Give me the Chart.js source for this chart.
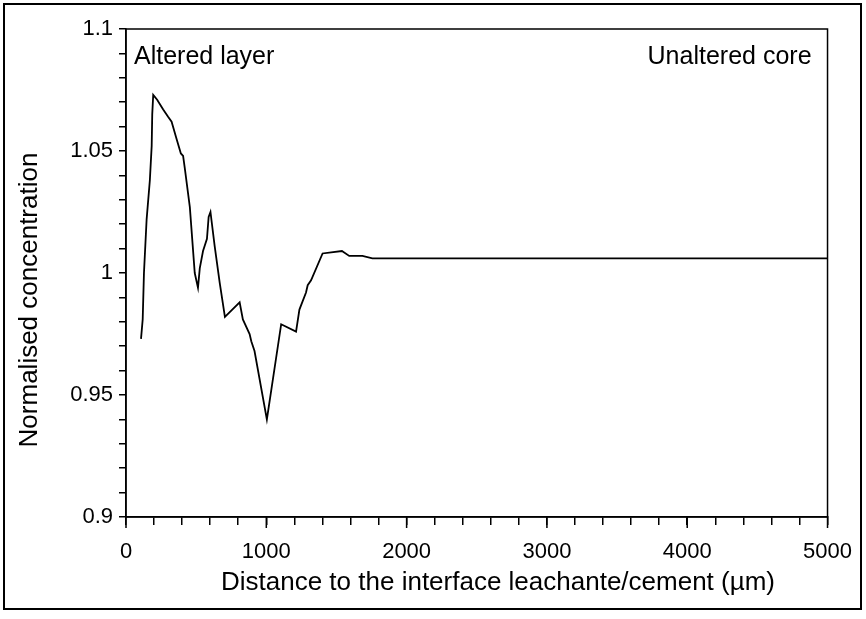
<!DOCTYPE html>
<html>
<head>
<meta charset="utf-8">
<script src="https://cdn.jsdelivr.net/npm/chart.js@4"></script>
<style>
  html, body { margin: 0; padding: 0; background: #fff; }
  #wrap { width: 866px; height: 619px; }
</style>
</head>
<body>
<div id="wrap"><canvas id="chart" width="866" height="619"></canvas></div>
<script>
// distance (µm) and normalised concentration
const distance = [107, 119, 128, 147, 170, 183, 187, 194, 222, 265, 300, 325, 360, 391, 407, 419,
  455, 490, 513, 526, 549, 577, 589, 602, 632, 668, 705, 810, 833, 881, 893, 916, 1004,
  1106, 1212, 1236, 1283, 1295, 1319, 1401, 1539, 1591, 1650, 1685, 1756, 1780, 5000];
const concentration = [0.973, 0.981, 1.0, 1.022, 1.038, 1.052, 1.065, 1.073, 1.071, 1.067, 1.064,
  1.062, 1.055, 1.049, 1.048, 1.043, 1.027, 1.0, 0.994, 1.002, 1.009, 1.014, 1.023, 1.025,
  1.011, 0.996, 0.982, 0.988, 0.981, 0.975, 0.972, 0.968, 0.940,
  0.979, 0.976, 0.985, 0.992, 0.995, 0.997, 1.008, 1.009, 1.007, 1.007, 1.007, 1.006, 1.006, 1.006];

const xMajorTicks = [0, 1000, 2000, 3000, 4000, 5000];
const yMajorTicks = [0.9, 0.95, 1, 1.05, 1.1];
const annotations = ['Altered layer', 'Unaltered core'];
const xTitle = 'Distance to the interface leachante/cement (µm)';
const yTitle = 'Normalised concentration';

const FONT = '"Liberation Sans", Arial, sans-serif';

const points = distance.map((d, i) => ({ x: d, y: concentration[i] }));

const frame = {
  id: 'frame',
  afterDraw(chart) {
    const { ctx, chartArea: a } = chart;
    const xs = chart.scales.x;
    ctx.save();
    ctx.strokeStyle = '#000';
    ctx.lineWidth = 1.5;
    ctx.strokeRect(a.left, a.top, a.right - a.left, a.bottom - a.top);

    // major x ticks are a bit longer than the minor ones
    ctx.beginPath();
    xMajorTicks.forEach(v => {
      const px = xs.getPixelForValue(v);
      ctx.moveTo(px, a.bottom);
      ctx.lineTo(px, a.bottom + 11);
    });
    ctx.stroke();

    ctx.lineWidth = 2;
    ctx.strokeRect(4, 4, 857, 605);

    ctx.fillStyle = '#000';
    ctx.font = '25px ' + FONT;
    ctx.textBaseline = 'middle';
    ctx.textAlign = 'left';
    ctx.fillText(annotations[0], a.left + 8, 57);
    ctx.textAlign = 'right';
    ctx.fillText(annotations[1], a.right - 16, 57);

    ctx.font = '26px ' + FONT;
    ctx.textAlign = 'center';
    ctx.fillText(xTitle, 498, 583);
    ctx.translate(30, 300);
    ctx.rotate(-Math.PI / 2);
    ctx.fillText(yTitle, 0, 0);
    ctx.restore();
  }
};

new Chart(document.getElementById('chart'), {
  type: 'line',
  data: {
    datasets: [{
      data: points,
      borderColor: '#000',
      borderWidth: 1.8,
      pointRadius: 0,
      tension: 0,
      fill: false
    }]
  },
  options: {
    responsive: false,
    animation: false,
    layout: { padding: { left: 0, top: 29, right: 36, bottom: 0 } },
    plugins: { legend: { display: false }, tooltip: { enabled: false } },
    scales: {
      x: {
        type: 'linear',
        min: 0,
        max: 5000,
        afterFit: s => { s.height = 102; },
        afterBuildTicks: s => {
          s.ticks = [];
          for (let v = 0; v <= 5000; v += 200) s.ticks.push({ value: v });
        },
        border: { display: true, color: '#000', width: 1.5 },
        grid: { drawOnChartArea: false, drawTicks: true, tickLength: 8, color: '#000', lineWidth: 1.5 },
        ticks: {
          autoSkip: false,
          maxRotation: 0,
          color: '#000',
          padding: 14,
          font: { family: FONT, size: 22 },
          callback: v => xMajorTicks.includes(v) ? String(v) : ''
        }
      },
      y: {
        type: 'linear',
        min: 0.9,
        max: 1.1,
        afterFit: s => { s.width = 126; },
        afterBuildTicks: s => {
          s.ticks = [];
          for (let i = 0; i <= 20; i++) s.ticks.push({ value: Math.round((0.9 + i * 0.01) * 100) / 100 });
        },
        border: { display: true, color: '#000', width: 1.5 },
        grid: { drawOnChartArea: false, drawTicks: true, tickLength: 7, color: '#000', lineWidth: 1.5 },
        ticks: {
          autoSkip: false,
          color: '#000',
          padding: 6,
          font: { family: FONT, size: 22 },
          callback: v => {
            const r = Math.round(v * 100) / 100;
            return yMajorTicks.some(t => Math.abs(t - r) < 1e-9) ? String(r) : '';
          }
        }
      }
    }
  },
  plugins: [frame]
});
</script>
</body>
</html>
